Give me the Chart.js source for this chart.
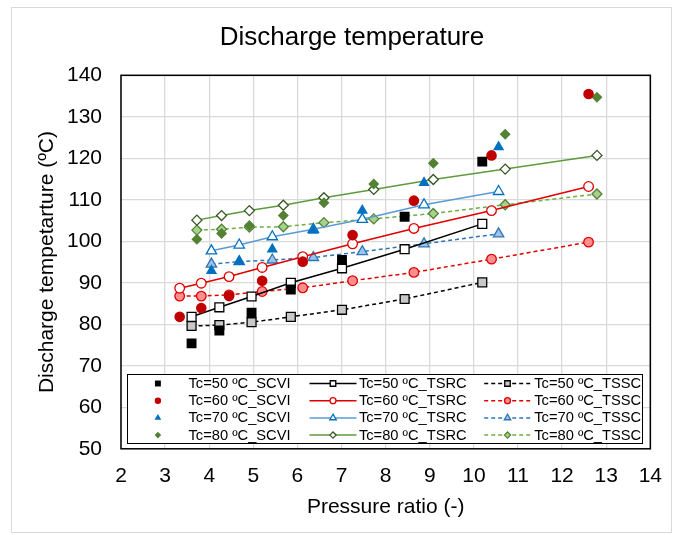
<!DOCTYPE html>
<html>
<head>
<meta charset="utf-8">
<style>
  html, body { margin: 0; padding: 0; background: #fff; }
  #wrap { width: 677px; height: 535px; position: relative; }
</style>
</head>
<body>
<div id="wrap"><canvas id="chart"></canvas></div>
<script src="https://cdn.jsdelivr.net/npm/chart.js@4/dist/chart.umd.min.js"></script>
<script>
// --- DATA ---
// pressure ratio (x) for each condensing temperature
const pr50 = [3.60, 4.23, 4.96, 5.85, 7.01, 8.43, 10.19];
const pr60 = [3.33, 3.82, 4.45, 5.20, 6.12, 7.25, 8.64, 10.40, 12.60];
const pr70 = [4.05, 4.68, 5.43, 6.36, 7.47, 8.87, 10.56];
const pr80 = [3.72, 4.28, 4.91, 5.68, 6.60, 7.73, 9.08, 10.71, 12.79];

// discharge temperature (ºC)
const scvi50 = [75.4, 78.5, 82.8, 88.4, 95.5, 105.9, 119.2];
const scvi60 = [81.8, 83.9, 86.8, 90.5, 95.1, 101.5, 109.8, 120.7, 135.5];
const scvi70 = [92.9, 95.1, 98.1, 102.6, 107.4, 114.1, 122.7];
const scvi80 = [100.5, 101.9, 103.8, 106.2, 109.3, 113.8, 118.8, 125.8, 134.7];

const tsrc50 = [81.8, 84.1, 86.7, 90.0, 93.5, 98.1, 104.2];
const tsrc60 = [88.7, 89.9, 91.5, 93.7, 96.3, 99.4, 103.1, 107.4, 113.2];
const tsrc70 = [97.7, 99.1, 101.1, 102.9, 105.3, 108.8, 112.0];
const tsrc80 = [105.1, 106.2, 107.4, 108.7, 110.5, 112.5, 114.9, 117.4, 120.7];

const tssc50 = [79.6, 79.8, 80.5, 81.8, 83.5, 86.1, 90.1];
const tssc60 = [86.8, 86.8, 87.1, 87.9, 88.8, 90.5, 92.5, 95.7, 99.8];
const tssc70 = [94.5, 95.1, 95.5, 96.1, 97.5, 99.4, 101.8];
const tssc80 = [102.7, 102.9, 103.4, 103.5, 104.5, 105.4, 106.7, 108.8, 111.4];

const FONT = '"Liberation Sans", Arial, sans-serif';
const TITLE = 'Discharge temperature';

const pts = (xs, ys) => xs.map((x, i) => ({ x: x, y: ys[i] }));

// filled markers, no line
function scvi(label, xs, ys, style, color, r) {
    return {
        label, data: pts(xs, ys), showLine: false, order: 0,
        pointStyle: style, pointRadius: r, pointHoverRadius: r,
        pointBackgroundColor: color, pointBorderColor: color, pointBorderWidth: 0,
        legendRadius: r * 0.6
    };
}

// marker + line (solid for TSRC, dashed for TSSC)
function lineSet(label, xs, ys, style, r, line, fill, edge, dashed) {
    return {
        label, data: pts(xs, ys), showLine: true, order: dashed ? 2 : 1,
        borderColor: line, borderWidth: 1.5, borderDash: dashed ? [4, 3] : [],
        pointStyle: style, pointRadius: r, pointHoverRadius: r,
        pointBackgroundColor: fill, pointBorderColor: edge, pointBorderWidth: 1.3,
        legendRadius: r * 0.62
    };
}

const datasets = [
    scvi('Tc=50 ºC_SCVI', pr50, scvi50, 'rect', '#000000', 7),
    scvi('Tc=60 ºC_SCVI', pr60, scvi60, 'circle', '#c00000', 5.3),
    scvi('Tc=70 ºC_SCVI', pr70, scvi70, 'triangle', '#0070c0', 6.5),
    scvi('Tc=80 ºC_SCVI', pr80, scvi80, 'rectRot', '#548235', 5.5),

    lineSet('Tc=50 ºC_TSRC', pr50, tsrc50, 'rect', 6.3, '#000000', '#ffffff', '#000000', false),
    lineSet('Tc=60 ºC_TSRC', pr60, tsrc60, 'circle', 4.8, '#e00000', '#ffffff', '#e00000', false),
    lineSet('Tc=70 ºC_TSRC', pr70, tsrc70, 'triangle', 6, '#5b9bd5', '#ffffff', '#0070c0', false),
    lineSet('Tc=80 ºC_TSRC', pr80, tsrc80, 'rectRot', 5, '#5e9a3e', '#ffffff', '#375623', false),

    lineSet('Tc=50 ºC_TSSC', pr50, tssc50, 'rect', 6.3, '#000000', '#c8c8c8', '#000000', true),
    lineSet('Tc=60 ºC_TSSC', pr60, tssc60, 'circle', 4.8, '#e00000', '#ff8f8f', '#e00000', true),
    lineSet('Tc=70 ºC_TSSC', pr70, tssc70, 'triangle', 6, '#2e75b6', '#9dc3e6', '#2e75b6', true),
    lineSet('Tc=80 ºC_TSSC', pr80, tssc80, 'rectRot', 5, '#70ad47', '#a9d18e', '#548235', true)
];

// white page, light grey frame, chart title, plot border
const framePlugin = {
    id: 'frame',
    beforeDraw(chart) {
        const ctx = chart.ctx;
        ctx.save();
        ctx.fillStyle = '#ffffff';
        ctx.fillRect(0, 0, chart.width, chart.height);
        ctx.strokeStyle = '#d9d9d9';
        ctx.lineWidth = 1;
        ctx.strokeRect(11.5, 7.5, 660, 525);
        // title sits a little left of the plot centre, as in the original
        ctx.fillStyle = '#000000';
        ctx.font = '26px ' + FONT;
        ctx.textAlign = 'center';
        ctx.textBaseline = 'middle';
        ctx.fillText(TITLE, 352, 38);
        ctx.restore();
    },
    beforeDatasetsDraw(chart) {
        const { ctx, chartArea: a } = chart;
        ctx.save();
        ctx.strokeStyle = '#000000';
        ctx.lineWidth = 1.5;
        ctx.strokeRect(a.left, a.top, a.right - a.left, a.bottom - a.top);
        ctx.restore();
    }
};

// legend box inside the plot: 3 columns x 4 rows
const gridLegend = {
    id: 'gridLegend',
    afterDatasetsDraw(chart) {
        const { ctx, chartArea: a } = chart;
        const left = Math.round(a.left + 6) + 0.5;
        const right = Math.round(a.right - 8) + 0.5;
        const top = Math.round(a.bottom - 75) + 0.5;
        const bottom = Math.round(a.bottom - 6) + 0.5;
        ctx.save();
        ctx.fillStyle = '#ffffff';
        ctx.fillRect(left, top, right - left, bottom - top);
        ctx.strokeStyle = '#000000';
        ctx.lineWidth = 1;
        ctx.strokeRect(left, top, right - left, bottom - top);

        const cols = [
            { line: null, mark: 30.4, text: 61 },
            { line: [182, 229], mark: 205.5, text: 231.4 },
            { line: [356.7, 403.4], mark: 380, text: 406.7 }
        ];
        ctx.font = '14.7px ' + FONT;
        ctx.textBaseline = 'middle';
        ctx.textAlign = 'left';
        datasets.forEach((ds, i) => {
            const c = cols[Math.floor(i / 4)];
            const y = top + 9 + (i % 4) * 17.2;
            if (c.line) {
                ctx.strokeStyle = ds.borderColor;
                ctx.lineWidth = ds.borderWidth;
                ctx.setLineDash(ds.borderDash);
                ctx.beginPath();
                ctx.moveTo(left + c.line[0], y);
                ctx.lineTo(left + c.line[1], y);
                ctx.stroke();
                ctx.setLineDash([]);
            }
            ctx.fillStyle = ds.pointBackgroundColor;
            ctx.strokeStyle = ds.pointBorderColor;
            ctx.lineWidth = ds.pointBorderWidth || 1;
            Chart.helpers.drawPoint(ctx, {
                pointStyle: ds.pointStyle, rotation: 0,
                radius: ds.legendRadius, borderWidth: ds.pointBorderWidth
            }, left + c.mark, y);
            ctx.fillStyle = '#000000';
            ctx.fillText(ds.label, left + c.text, y + 0.5);
        });
        ctx.restore();
    }
};

new Chart(document.getElementById('chart'), {
    type: 'scatter',
    data: { datasets },
    options: {
        responsive: true,
        maintainAspectRatio: false,
        animation: false,
        layout: { padding: { left: 12, right: 20, top: 75.3, bottom: 0 } },
        font: { family: FONT },
        plugins: {
            legend: { display: false },
            tooltip: { enabled: false },
            title: { display: false }
        },
        scales: {
            x: {
                type: 'linear',
                min: 2, max: 14,
                afterFit: (s) => { s.height = 86.2; },
                border: { display: false },
                grid: { color: '#d9d9d9', lineWidth: 1.3, drawTicks: false },
                ticks: {
                    stepSize: 1, maxRotation: 0, autoSkip: false,
                    color: '#000000', padding: 15,
                    font: { family: FONT, size: 21 }
                },
                title: {
                    display: true, text: 'Pressure ratio (-)', color: '#000000',
                    font: { family: FONT, size: 21 },
                    padding: { top: 0, bottom: 15 }
                }
            },
            y: {
                min: 50, max: 140,
                afterFit: (s) => { s.width = 109; },
                border: { display: false },
                grid: { color: '#d9d9d9', lineWidth: 1.3, drawTicks: false },
                ticks: {
                    stepSize: 10, color: '#000000', padding: 19,
                    font: { family: FONT, size: 21 }
                },
                title: {
                    display: true, text: 'Discharge tempetarture (ºC)', color: '#000000',
                    font: { family: FONT, size: 21 },
                    padding: { top: 23, bottom: 0 }
                }
            }
        }
    },
    plugins: [framePlugin, gridLegend]
});
</script>
</body>
</html>
